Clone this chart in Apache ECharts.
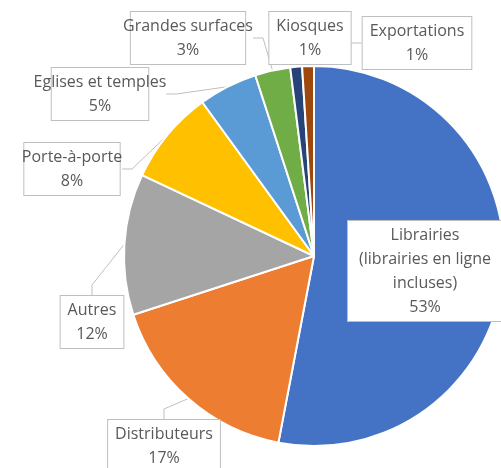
<!DOCTYPE html>
<html>
<head>
<meta charset="utf-8">
<script src="https://cdn.jsdelivr.net/npm/echarts@6/dist/echarts.min.js"></script>
<style>
  html, body { margin: 0; padding: 0; background: #fff; }
  #chart { width: 501px; height: 468px; }
</style>
</head>
<body>
<div id="chart"></div>
<script>
// données
const categories = [
  'Librairies\n(librairies en ligne\nincluses)',
  'Distributeurs',
  'Autres',
  'Porte-à-porte',
  'Eglises et temples',
  'Grandes surfaces',
  'Kiosques',
  'Exportations'
];
const values = [53, 17, 12, 8, 5, 3, 1, 1];

const colors = ['#4472C4', '#ED7D31', '#A5A5A5', '#FFC000', '#5B9BD5', '#70AD47', '#264478', '#9E480E'];
// centre des étiquettes (px)
const labelPos = [
  [425, 271], [164, 446], [92, 322], [72, 169],
  [100, 94], [188, 38], [310, 38], [417, 43]
];

let chart = echarts.init(document.getElementById('chart'));

const option = {
  animation: false,
  series: [
    {
      type: 'pie',
      center: [314, 256],
      radius: [0, 190],
      startAngle: 90,
      clockwise: true,
      itemStyle: {
        borderColor: '#fff',
        borderWidth: 2
      },
      label: {
        show: true,
        position: 'outside',
        alignTo: 'none',
        overflow: 'none',
        formatter: p => p.name + '\n' + p.value + '%',
        fontFamily: 'Open Sans',
        fontSize: 16,
        lineHeight: 24,
        color: '#595959',
        align: 'center',
        backgroundColor: '#fff',
        borderColor: '#bfbfbf',
        borderWidth: 1,
        padding: [2, 7]
      },
      labelLine: {
        show: true,
        length: 10,
        length2: 10,
        lineStyle: { color: '#bfbfbf', width: 1 }
      },
      labelLayout: function (params) {
        const pos = labelPos[params.dataIndex];
        return {
          x: pos[0],
          y: pos[1],
          align: 'center',
          verticalAlign: 'middle'
        };
      },
      data: categories.map((c, i) => {
        const d = { name: c, value: values[i], itemStyle: { color: colors[i] } };
        if (i === 0) {
          d.labelLine = { show: false };
          d.label = { width: 140 };
        }
        return d;
      })
    }
  ]
};

chart.setOption(option);
</script>
</body>
</html>
